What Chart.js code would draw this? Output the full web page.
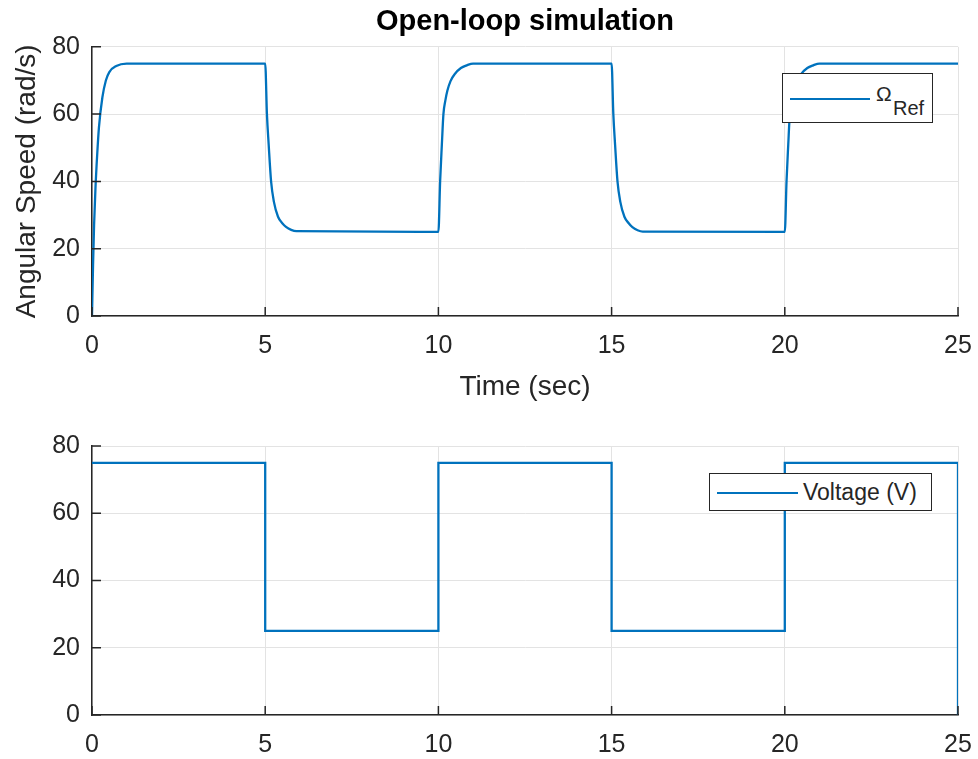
<!DOCTYPE html>
<html>
<head>
<meta charset="utf-8">
<script src="https://cdn.jsdelivr.net/npm/chart.js@4/dist/chart.umd.min.js"></script>
<style>
  html, body { margin:0; padding:0; background:#ffffff; }
  body { width:978px; height:759px; position:relative; overflow:hidden; font-family:"Liberation Sans", Arial, sans-serif; }
  canvas { position:absolute; left:0; }
  .legend { position:absolute; box-sizing:border-box; background:#ffffff; border:1.5px solid #262626; }
  .legend .ln { position:absolute; height:2px; background:#0072BD; }
  .legend .tx { position:absolute; color:#262626; white-space:nowrap; line-height:1; }
</style>
</head>
<body>
<canvas id="top" width="978" height="430" style="top:0"></canvas>
<canvas id="bot" width="978" height="329" style="top:430px"></canvas>

<div class="legend" style="left:782px;top:73px;width:151px;height:50px;">
  <div class="ln" style="left:7px;top:24px;width:80px;"></div>
  <div class="tx" style="left:93px;top:9px;font-size:21px;">&Omega;</div>
  <div class="tx" style="left:110px;top:24px;font-size:20px;">Ref</div>
</div>
<div class="legend" style="left:709px;top:473px;width:223px;height:38px;">
  <div class="ln" style="left:7px;top:18px;width:81px;"></div>
  <div class="tx" style="left:93px;top:7px;font-size:23px;">Voltage (V)</div>
</div>

<script>
// ---- data ----
const timeTicks = [0, 5, 10, 15, 20, 25];
const valueTicks = [0, 20, 40, 60, 80];

// Angular speed (rad/s) vs time (sec)
const speedTime = [0, 0.03, 0.06, 0.1, 0.15, 0.2, 0.3, 0.4, 0.5, 0.7, 1.0,
  5.0, 5.05, 5.1, 5.17, 5.25, 5.37, 5.5, 5.6, 5.75, 5.9,
  10.0, 10.05, 10.1, 10.145, 10.2, 10.26, 10.35, 10.48, 10.65, 10.82, 11.0,
  15.0, 15.05, 15.1, 15.17, 15.25, 15.37, 15.5, 15.6, 15.75, 15.9,
  20.0, 20.05, 20.1, 20.145, 20.2, 20.26, 20.35, 20.48, 20.65, 20.82, 21.0,
  25.0];
const speedValues = [0, 15, 27, 38, 48, 56, 65, 70, 72.5, 74.3, 75,
  75, 60, 51, 40, 34, 29.5, 27.5, 26.5, 25.6, 25.2,
  25, 40, 51, 60, 64, 67, 69.8, 72, 73.7, 74.5, 75,
  75, 60, 51, 40, 34, 29.5, 27.5, 26.4, 25.5, 25.1,
  25, 40, 51, 60, 64, 67, 69.8, 72, 73.7, 74.5, 75,
  75];

// Voltage (V) vs time (sec)
const voltageTime = [0, 5, 5, 10, 10, 15, 15, 20, 20, 25, 25];
const voltageValues = [75, 75, 25, 25, 75, 75, 25, 25, 75, 75, 0];

// ---- styling ----
const FONT = '"Liberation Sans", Arial, Helvetica, sans-serif';
const AXIS = '#262626';
const GRID = '#e3e3e3';
const LINE = '#0072BD';

const innerTicks = {
  id: 'innerTicks',
  afterDraw(chart) {
    const ctx = chart.ctx, xs = chart.scales.x, ys = chart.scales.y, a = chart.chartArea;
    ctx.save();
    ctx.strokeStyle = AXIS;
    ctx.lineWidth = 1.5;
    ctx.beginPath();
    timeTicks.forEach(v => { const p = xs.getPixelForValue(v); ctx.moveTo(p, a.bottom); ctx.lineTo(p, a.bottom - 9); });
    valueTicks.forEach(v => { const p = ys.getPixelForValue(v); ctx.moveTo(a.left, p); ctx.lineTo(a.left + 9, p); });
    ctx.stroke();
    ctx.restore();
  }
};

function makeChart(id, times, values, opts) {
  const data = times.map((t, i) => ({ x: t, y: values[i] }));
  return new Chart(document.getElementById(id), {
    type: 'line',
    data: { datasets: [{ data, borderColor: LINE, borderWidth: 2.3, pointRadius: 0,
      tension: 0, cubicInterpolationMode: opts.smooth ? 'monotone' : 'default', fill: false }] },
    plugins: [innerTicks],
    options: {
      responsive: false, animation: false, devicePixelRatio: 1,
      layout: { padding: opts.padding },
      plugins: {
        legend: { display: false }, tooltip: { enabled: false },
        title: opts.title ? { display: true, text: opts.title, color: '#000000', fullSize: false,
          font: { family: FONT, size: 29, weight: 'bold' }, padding: { top: 5, bottom: 7 } } : { display: false }
      },
      scales: {
        x: {
          type: 'linear', min: 0, max: 25,
          afterBuildTicks: s => { s.ticks = timeTicks.map(v => ({ value: v })); },
          afterFit: s => { s.height = opts.xHeight; s.paddingLeft = 0; s.paddingRight = 0; },
          ticks: { color: AXIS, font: { family: FONT, size: 25 }, padding: 15, maxRotation: 0 },
          grid: { color: GRID, lineWidth: 1, drawTicks: false },
          border: { display: true, color: AXIS, width: 1.5 },
          title: opts.xTitle ? { display: true, text: opts.xTitle, color: AXIS,
            font: { family: FONT, size: 28 }, padding: { top: 0, bottom: 26 } } : { display: false }
        },
        y: {
          type: 'linear', min: 0, max: 80,
          afterBuildTicks: s => { s.ticks = valueTicks.map(v => ({ value: v })); },
          afterFit: s => { s.width = 92; s.paddingTop = 0; s.paddingBottom = 0; },
          ticks: { color: AXIS, font: { family: FONT, size: 25 }, padding: 12 },
          grid: { color: GRID, lineWidth: 1, drawTicks: false },
          border: { display: true, color: AXIS, width: 1.5 },
          title: opts.yTitle ? { display: true, text: opts.yTitle, color: AXIS,
            font: { family: FONT, size: 28 }, padding: { top: 10, bottom: 0 } } : { display: false }
        }
      }
    }
  });
}

makeChart('top', speedTime, speedValues, {
  smooth: true, title: 'Open-loop simulation', xTitle: 'Time (sec)', yTitle: 'Angular Speed (rad/s)',
  padding: { left: 0, right: 20, top: 0, bottom: 0 }, xHeight: 114
});
makeChart('bot', voltageTime, voltageValues, {
  smooth: false, padding: { left: 0, right: 20, top: 16, bottom: 0 }, xHeight: 44
});
</script>
</body>
</html>
